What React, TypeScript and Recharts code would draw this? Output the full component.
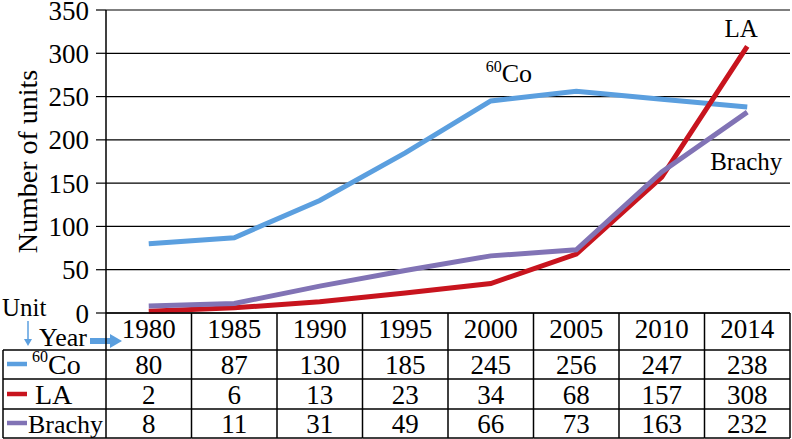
import React from 'react';
import { ComposedChart, Line, XAxis, YAxis, CartesianGrid } from 'recharts';

// values
const years = ['1980', '1985', '1990', '1995', '2000', '2005', '2010', '2014'];
const co60 = [80, 87, 130, 185, 245, 256, 247, 238];
const la = [2, 6, 13, 23, 34, 68, 157, 308];
const brachy = [8, 11, 31, 49, 66, 73, 163, 232];
const yTicks = [0, 50, 100, 150, 200, 250, 300, 350];

const data = years.map((year, i) => ({ year, co60: co60[i], la: la[i], brachy: brachy[i] }));

const FONT = '"Liberation Serif", "Times New Roman", serif';
const BLUE = '#5b9fdf';
const RED = '#c8141e';
const PURPLE = '#8173b5';

const CHART_W = 792;
const CHART_H = 439;
const Y_AXIS_W = 106;
const PLOT_W = CHART_W - Y_AXIS_W - 2;
const TABLE_LEFT = 3;

// row bottoms of the table, relative to the x axis line
const ROW_BOTTOMS = [37, 66, 96, 125];
const ROW_BASELINES = [25, 61, 91, 120];

const series = [
  { key: 'co60', values: co60, color: BLUE },
  { key: 'la', values: la, color: RED },
  { key: 'brachy', values: brachy, color: PURPLE },
];

const LegendCell = ({ y }: { y: number }) => {
  const line = { stroke: '#000', strokeWidth: 1.5 };
  const swatchX = TABLE_LEFT + 4;
  return (
    <g fontFamily={FONT} fill="#000">
      {/* Unit / Year header */}
      <text x={2} y={y + 3} fontSize={25}>Unit</text>
      <line x1={28} y1={y + 8} x2={28} y2={y + 28} stroke={BLUE} strokeWidth={1.5} />
      <polygon points={`${24},${y + 26} ${32},${y + 26} ${28},${y + 33}`} fill={BLUE} />
      <text x={39} y={y + 33} fontSize={26}>Year</text>
      <rect x={90} y={y + 25} width={21} height={6} fill={BLUE} />
      <polygon points={`${110},${y + 21} ${110},${y + 35} ${122},${y + 28}`} fill={BLUE} />

      {ROW_BOTTOMS.map((b) => (
        <line key={b} x1={TABLE_LEFT} y1={y + b} x2={Y_AXIS_W} y2={y + b} {...line} />
      ))}
      <line x1={TABLE_LEFT} y1={y + ROW_BOTTOMS[0]} x2={TABLE_LEFT} y2={y + ROW_BOTTOMS[3]} {...line} />

      <line x1={swatchX} y1={y + 51} x2={swatchX + 20} y2={y + 51} stroke={BLUE} strokeWidth={4.5} />
      <text x={32} y={y + ROW_BASELINES[1]}>
        <tspan fontSize={16} dy={-12}>60</tspan>
        <tspan fontSize={28} dy={12}>Co</tspan>
      </text>

      <line x1={swatchX} y1={y + 81} x2={swatchX + 20} y2={y + 81} stroke={RED} strokeWidth={4.5} />
      <text x={35} y={y + ROW_BASELINES[2]} fontSize={28}>LA</text>

      <line x1={swatchX} y1={y + 110} x2={swatchX + 20} y2={y + 110} stroke={PURPLE} strokeWidth={4.5} />
      <text x={28} y={y + ROW_BASELINES[3]} fontSize={26}>Brachy</text>
    </g>
  );
};

const TableTick = (props: any) => {
  const { x, y, payload, index } = props;
  const bw = PLOT_W / years.length;
  const left = x - bw / 2;
  const right = x + bw / 2;
  const line = { stroke: '#000', strokeWidth: 1.5 };
  return (
    <g>
      {index === 0 && <LegendCell y={y} />}
      <line x1={left} y1={y} x2={left} y2={y + ROW_BOTTOMS[3]} {...line} />
      {index === years.length - 1 && (
        <line x1={right} y1={y} x2={right} y2={y + ROW_BOTTOMS[3]} {...line} />
      )}
      {ROW_BOTTOMS.map((b) => (
        <line key={b} x1={left} y1={y + b} x2={right} y2={y + b} {...line} />
      ))}
      <text x={x} y={y + ROW_BASELINES[0]} textAnchor="middle" fontSize={27} fontFamily={FONT} fill="#000">
        {payload.value}
      </text>
      {series.map((s, r) => (
        <text
          key={s.key}
          x={x}
          y={y + ROW_BASELINES[r + 1]}
          textAnchor="middle"
          fontSize={27}
          fontFamily={FONT}
          fill="#000"
        >
          {s.values[payload.index ?? index]}
        </text>
      ))}
    </g>
  );
};

const coLabel = (props: any) => {
  const { x, y, index } = props;
  if (index !== 4) return null;
  return (
    <text x={x - 5} y={y - 19} fontFamily={FONT} fill="#000">
      <tspan fontSize={16} dy={-10}>60</tspan>
      <tspan fontSize={26} dy={10}>Co</tspan>
    </text>
  );
};

const laLabel = (props: any) => {
  const { x, y, index } = props;
  if (index !== years.length - 1) return null;
  return (
    <text x={x - 6} y={y - 9} textAnchor="middle" fontSize={25} fontFamily={FONT} fill="#000">
      LA
    </text>
  );
};

const brachyLabel = (props: any) => {
  const { x, y, index } = props;
  if (index !== years.length - 1) return null;
  return (
    <text x={x - 1} y={y + 58} textAnchor="middle" fontSize={25} fontFamily={FONT} fill="#000">
      Brachy
    </text>
  );
};

const yLabel = (props: any) => {
  const { viewBox } = props;
  const cy = viewBox.y + viewBox.height / 2;
  return (
    <text
      x={27}
      y={cy}
      transform={`rotate(-90, 27, ${cy})`}
      textAnchor="middle"
      dominantBaseline="central"
      fontSize={28}
      fontFamily={FONT}
      fill="#000"
    >
      Number of units
    </text>
  );
};

export default function App() {
  return (
    <div style={{ position: 'absolute', left: 0, top: 0, background: '#fff', fontFamily: FONT }}>
      <ComposedChart
        width={CHART_W}
        height={CHART_H}
        data={data}
        margin={{ top: 10, right: 2, bottom: 1, left: 0 }}
      >
        <CartesianGrid vertical={false} stroke="#000" strokeWidth={1.2} />
        <XAxis
          dataKey="year"
          scale="band"
          interval={0}
          height={125}
          tickSize={0}
          tickMargin={0}
          tickLine={false}
          axisLine={{ stroke: '#000', strokeWidth: 1.5 }}
          tick={<TableTick />}
        />
        <YAxis
          domain={[0, 350]}
          ticks={yTicks}
          interval={0}
          width={Y_AXIS_W}
          tickSize={10}
          tickMargin={7}
          axisLine={{ stroke: '#000', strokeWidth: 1.5 }}
          tickLine={{ stroke: '#000', strokeWidth: 1.2 }}
          tick={{ fill: '#000', fontSize: 27, fontFamily: FONT }}
          label={yLabel}
        />
        <YAxis
          yAxisId="r"
          orientation="right"
          domain={[0, 350]}
          width={0}
          tick={false}
          tickLine={false}
          axisLine={{ stroke: '#000', strokeWidth: 1.5 }}
        />
        <Line
          dataKey="co60"
          stroke={BLUE}
          strokeWidth={5}
          dot={false}
          isAnimationActive={false}
          label={coLabel}
        />
        <Line
          dataKey="la"
          stroke={RED}
          strokeWidth={5}
          dot={false}
          isAnimationActive={false}
          label={laLabel}
        />
        <Line
          dataKey="brachy"
          stroke={PURPLE}
          strokeWidth={5}
          dot={false}
          isAnimationActive={false}
          label={brachyLabel}
        />
      </ComposedChart>
    </div>
  );
}
